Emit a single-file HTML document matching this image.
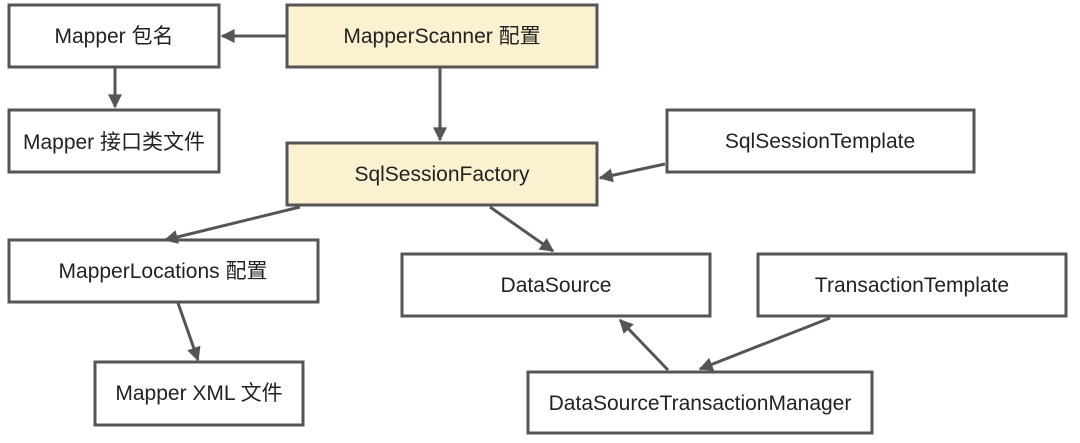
<!DOCTYPE html>
<html><head><meta charset="utf-8"><style>
body{margin:0;background:#fff;width:1080px;height:438px;overflow:hidden}
</style></head><body>
<svg width="1080" height="438" xmlns="http://www.w3.org/2000/svg" font-family="Liberation Sans, Noto Sans CJK SC, sans-serif" font-size="21" fill="#222">
<defs>
<marker id="b" viewBox="0 0 10 10" markerWidth="16" markerHeight="14" refX="9" refY="5" orient="auto" markerUnits="userSpaceOnUse"><path d="M0,0 L10,5 L0,10 z" fill="#555"/></marker></defs>
<g stroke="#555" stroke-width="3">
<rect x="9" y="5" width="210" height="62" fill="#fff"/>
<rect x="287" y="5" width="310" height="62" fill="#fbf0cf"/>
<rect x="9" y="110" width="210" height="62" fill="#fff"/>
<rect x="287" y="143" width="310" height="62" fill="#fbf0cf"/>
<rect x="667" y="110" width="307" height="62" fill="#fff"/>
<rect x="9" y="240" width="309" height="62" fill="#fff"/>
<rect x="402" y="254" width="308" height="62" fill="#fff"/>
<rect x="758" y="254" width="308" height="62" fill="#fff"/>
<rect x="95" y="362" width="208" height="63" fill="#fff"/>
<rect x="528" y="372" width="344" height="61" fill="#fff"/>
</g>
<g stroke="#555" stroke-width="3" fill="none" marker-end="url(#b)">
<line x1="286" y1="36" x2="222" y2="36"/>
<line x1="115" y1="68" x2="115" y2="107"/>
<line x1="440" y1="68" x2="440" y2="140"/>
<line x1="665" y1="164" x2="600" y2="178"/>
<line x1="300" y1="207" x2="165" y2="240"/>
<line x1="490" y1="207" x2="553" y2="251"/>
<line x1="178" y1="303" x2="198" y2="360"/>
<line x1="668" y1="370" x2="620" y2="320"/>
<line x1="830" y1="318" x2="700" y2="369"/>
</g>
<g text-anchor="middle">
<text x="114" y="43">Mapper 包名</text>
<text x="442" y="43">MapperScanner 配置</text>
<text x="114" y="149">Mapper 接口类文件</text>
<text x="442" y="181">SqlSessionFactory</text>
<text x="820" y="148">SqlSessionTemplate</text>
<text x="163" y="278">MapperLocations 配置</text>
<text x="556" y="292">DataSource</text>
<text x="912" y="292">TransactionTemplate</text>
<text x="199" y="400">Mapper XML 文件</text>
<text x="700" y="410">DataSourceTransactionManager</text>
</g>
</svg>
</body></html>
